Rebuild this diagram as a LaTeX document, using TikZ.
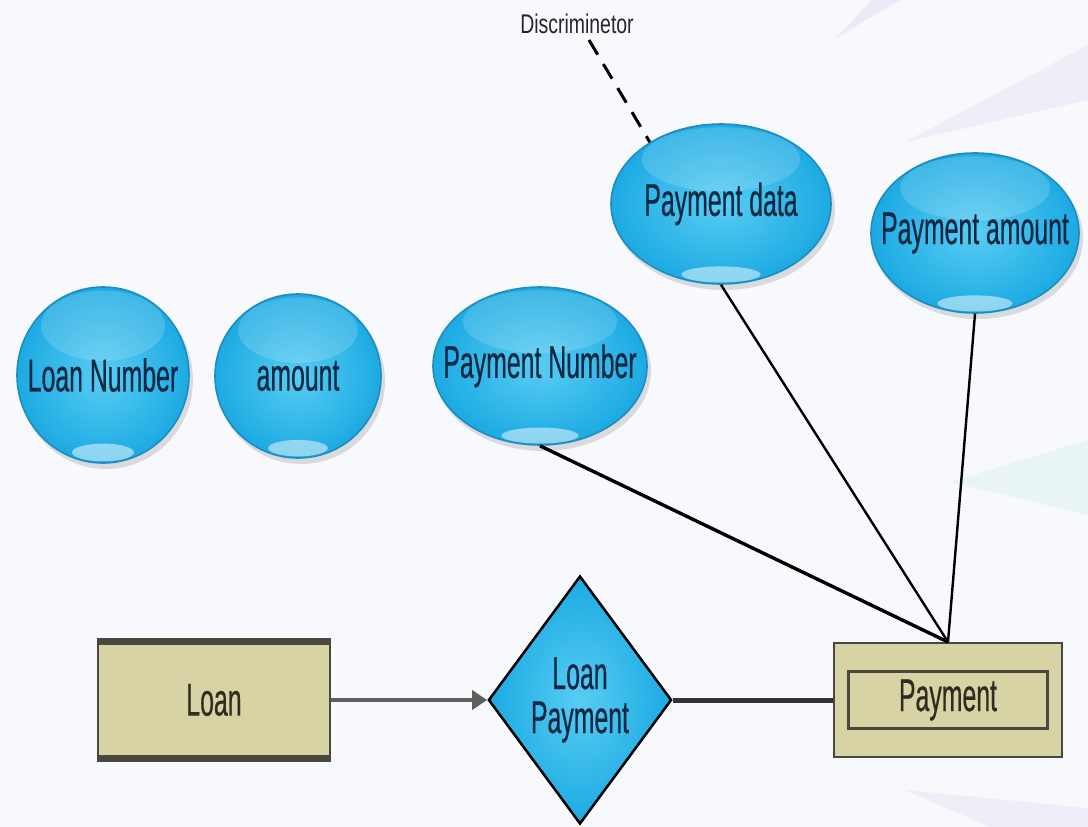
\documentclass[tikz,border=0pt]{standalone}
\usepackage{fontspec}
\setmainfont{Liberation Sans}
\newfontfamily\nar[FakeStretch=0.54,FakeBold=0.4]{Liberation Sans}
\newfontfamily\narb[FakeStretch=0.72]{Liberation Sans}
\usetikzlibrary{shapes.geometric,arrows.meta,calc}
\definecolor{bgc}{RGB}{247,249,252}
\definecolor{lav}{RGB}{232,229,245}
\definecolor{tealf}{RGB}{224,243,240}
\definecolor{attrin}{RGB}{88,205,243}
\definecolor{attrout}{RGB}{28,170,226}
\definecolor{attrline}{RGB}{30,140,190}
\definecolor{attrtext}{RGB}{15,40,68}
\definecolor{entfill}{RGB}{215,211,165}
\definecolor{entline}{RGB}{72,72,62}
\definecolor{enttext}{RGB}{45,45,32}
\definecolor{arrowc}{RGB}{95,95,95}
\tikzset{
  attr/.style={ellipse, draw=attrline, line width=1.6pt, inner sep=0pt,
    shading=radial, inner color=attrin, outer color=attrout,
    font=\nar\fontsize{46}{46}\selectfont, text=attrtext},
  entity/.style={rectangle, draw=entline, line width=2pt, fill=entfill,
    inner sep=0pt, font=\nar\fontsize{46}{46}\selectfont, text=enttext},
  rel/.style={diamond, draw=black, line width=2.5pt, inner sep=0pt,
    shading=radial, inner color=attrin, outer color=attrout,
    align=center, font=\nar\fontsize{46}{46}\selectfont, text=attrtext},
  conn/.style={draw=black, line width=2.4pt},
}
\newcommand\attrib[6]{%
  \fill[black, opacity=.12] (#2+3,#3+5) ellipse [x radius=#4/2+1, y radius=#5/2+1];
  \node[attr, minimum width=#4pt, minimum height=#5pt,
        path picture={
          \fill[white,opacity=.16] ($(path picture bounding box.center)+(0,-#5*0.28)$) ellipse [x radius=#4*0.36, y radius=#5*0.2];
          \fill[white,opacity=.50] ($(path picture bounding box.center)+(0,#5*0.44)$) ellipse [x radius=#4*0.18, y radius=#5*0.05];
        }] (#1) at (#2,#3) {\makebox[0pt]{#6}};
}
\begin{document}
\begin{tikzpicture}[x=1pt,y=-1pt]
\useasboundingbox (0,0) rectangle (1088,827);
\fill[bgc] (0,0) rectangle (1088,827);
% faint background streaks
\fill[lav, opacity=.7] (836,38) -- (872,0) -- (900,0) -- cycle;
\fill[lav, opacity=.5] (905,142) -- (1088,45) -- (1088,100) -- cycle;
\fill[tealf, opacity=.6] (950,482) -- (1088,440) -- (1088,515) -- cycle;
\fill[lav, opacity=.5] (905,790) -- (1088,808) -- (1088,827) -- (990,827) -- cycle;

% attributes
\attrib{ln}{103}{375}{172}{176}{Loan Number}
\attrib{am}{298}{376}{166}{164}{amount}
\attrib{pn}{540}{366}{214}{158}{Payment Number}
\attrib{pd}{721}{204}{220}{160}{Payment data}
\attrib{pa}{975}{233}{208}{160}{Payment amount}

% discriminator label
\node[font=\narb\fontsize{27}{27}\selectfont, text=black!85, inner sep=0pt] (disc) at (577,24) {Discriminetor};
\coordinate (dtip) at (589,40);

% entities and relationship
\node[entity, minimum width=232pt, minimum height=115pt] (loan) at (214,700) {Loan};
\draw[entline, line width=7pt] (loan.north west) -- (loan.north east);
\draw[entline, line width=7pt] (loan.south west) -- (loan.south east);

\node[rel, minimum width=177pt, minimum height=248pt] (lp) at (580,700) {Loan\\[-2pt]Payment};

\node[entity, minimum width=228pt, minimum height=114pt] (pay) at (948,700) {};
\node[entity, line width=3pt, minimum width=199pt, minimum height=57pt] (payin) at (948,700) {Payment};

% connectors
\draw[arrowc, line width=4pt, -{Triangle[length=15pt,width=19pt]}] (loan.east) -- (lp.west);
\draw[black!80, line width=5pt] (lp.east) -- (pay.west);
\draw[conn, line width=3.4pt] (pn.south) -- (pay.north);
\draw[conn] (pd.south) -- (pay.north);
\draw[conn] (pa.south) -- (pay.north);
\draw[black, line width=3pt, dash pattern=on 17pt off 11pt] (dtip) -- (pd.139);
\end{tikzpicture}
\end{document}
